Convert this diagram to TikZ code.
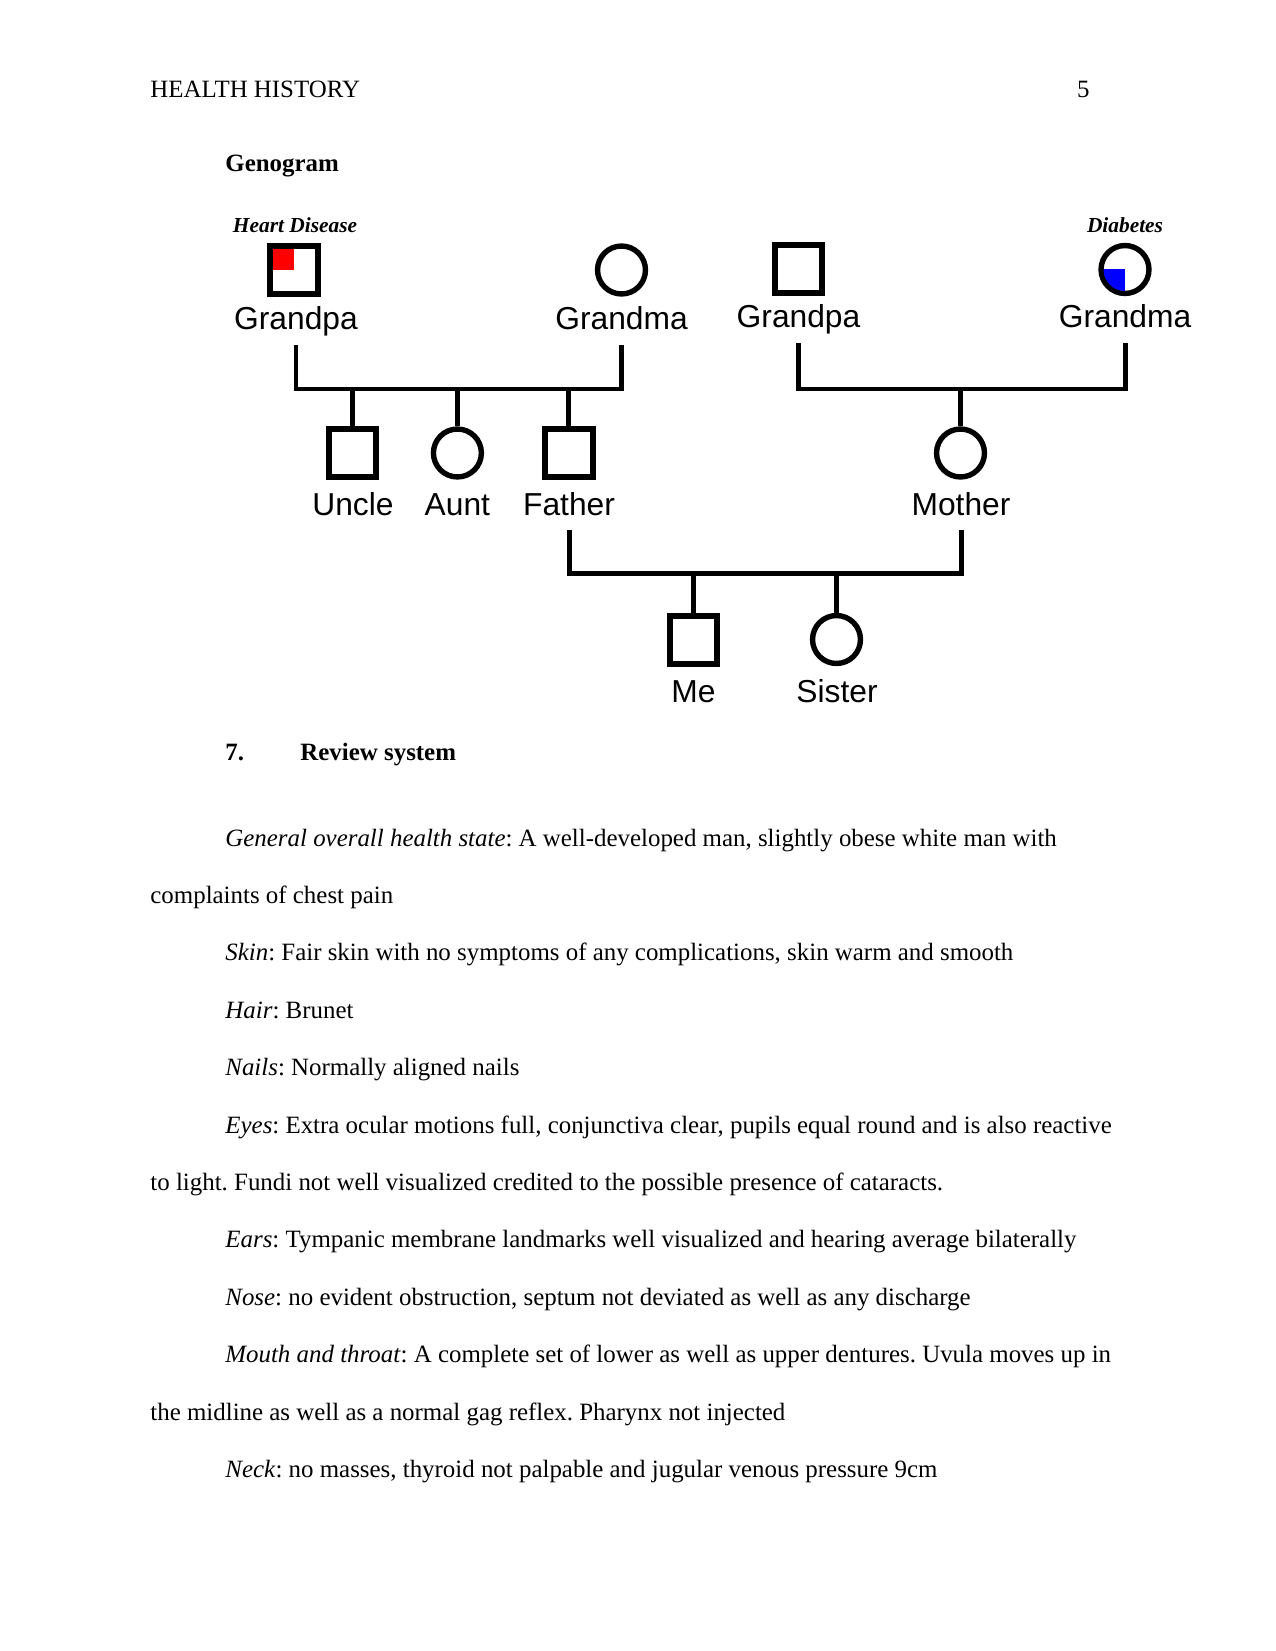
\documentclass[tikz,border=0pt]{standalone}
\usepackage{fontspec}
\setmainfont{Liberation Serif}
\newfontfamily\kinfont{Liberation Sans}
\definecolor{dxred}{rgb}{1,0,0}
\definecolor{dxblue}{rgb}{0,0,1}
\frenchspacing

\begin{document}
\begin{tikzpicture}[x = 0.4818pt, y = -0.4818pt,
                    malebox/.style={rectangle, draw = black,
                    line width = 2.9pt, minimum size = 23.1pt, inner sep = 0},
                    femcirc/.style={circle, draw = black,
                    line width = 2.6pt, minimum size = 23.1pt, inner sep = 0},
                    kinlbl/.style={anchor = base, inner sep = 0,
                    font = \kinfont\fontsize{15.3}{18}\selectfont,
                    text depth = 3.4pt, outer ysep = 3.8pt},
                    dxlbl/.style={anchor = base,
                    font = \fontsize{10.3}{12}\selectfont\bfseries\itshape},
                    famline/.style={line width = 2.4pt, draw = black},
                    bodytxt/.style={anchor = base west, inner sep = 0,
                    font = \fontsize{12}{14}\selectfont},
                    headtxt/.style={bodytxt, font = \fontsize{12}{14}\selectfont\bfseries}]

                    \useasboundingbox (0,0) rectangle (1275,1651);

                    \node[bodytxt] (hdr) at (150,98) {HEALTH HISTORY};
                    \node[bodytxt, anchor = base east] (pgno) at (1090,98) {5};
                    \node[headtxt] (genohd) at (225,172) {Genogram};

                    % grandparents
                    \node[dxlbl] (hd) at (295,233) {Heart Disease};
                    \node[malebox] (gpa1) at (294,270) {};
                    \fill[dxred] (gpa1.center) rectangle ++(-21,-21);
                    \node[kinlbl] (gpa1lbl) at (296,330) {Grandpa};
                    \node[femcirc] (gma1) at (621.5,270) {};
                    \node[kinlbl] (gma1lbl) at (621.5,330) {Grandma};

                    \node[malebox] (gpa2) at (798.5,269) {};
                    \node[kinlbl] (gpa2lbl) at (798.5,328) {Grandpa};
                    \node[dxlbl] (db) at (1125,233) {Diabetes};
                    \node[femcirc] (gma2) at (1125,269.5) {};
                    \begin{scope}
                    \clip (gma2.center) circle [radius = 21.5];
                    \fill[dxblue] (gma2.center) rectangle ++(-25,25);
                    \end{scope}
                    \node[kinlbl] (gma2lbl) at (1125,328) {Grandma};

                    % parents
                    \node[malebox] (uncle) at (352.5,453) {};
                    \node[kinlbl] (unclelbl) at (353,515) {Uncle};
                    \node[femcirc] (aunt) at (457.4,453) {};
                    \node[kinlbl] (auntlbl) at (457.4,515) {Aunt};
                    \node[malebox] (father) at (568.6,453) {};
                    \node[kinlbl] (fatherlbl) at (569,515) {Father};
                    \node[femcirc] (mother) at (960.5,453) {};
                    \node[kinlbl] (motherlbl) at (961,515) {Mother};

                    % children
                    \node[malebox] (me) at (693.5,640) {};
                    \node[kinlbl] (melbl) at (693.5,702) {Me};
                    \node[femcirc] (sister) at (836.5,639.5) {};
                    \node[kinlbl] (sisterlbl) at (837,702) {Sister};

                    \coordinate (pbar) at (459,389);
                    \coordinate (mbar) at (961,389);
                    \coordinate (cbar) at (765,573.5);

                    \draw[famline] (gpa1lbl.south) |- (pbar) -| (gma1lbl.south);
                    \draw[famline] (uncle.north) -- (uncle.north |- pbar);
                    \draw[famline] (aunt.north) -- (aunt.north |- pbar);
                    \draw[famline] (father.north) -- (father.north |- pbar);
                    \draw[famline] (gpa2lbl.south) |- (mbar) -| (gma2lbl.south);
                    \draw[famline] (mother.north) -- (mother.north |- mbar);
                    \draw[famline] (fatherlbl.south) |- (cbar) -| (motherlbl.south);
                    \draw[famline] (me.north) -- (me.north |- cbar);
                    \draw[famline] (sister.north) -- (sister.north |- cbar);

                    % review system
                    \node[headtxt] (secno) at (225,760) {7.};
                    \node[headtxt] (sechd) at (300,760) {Review system};

                    \node[bodytxt] (ln1) at (225,846) {\textit{General overall health state}: A well-developed man, slightly obese white man with};
                    \node[bodytxt] (ln2) at (150,903.4) {complaints of chest pain};
                    \node[bodytxt] (ln3) at (225,960.8) {\textit{Skin}: Fair skin with no symptoms of any complications, skin warm and smooth};
                    \node[bodytxt] (ln4) at (225,1018.2) {\textit{Hair}: Brunet};
                    \node[bodytxt] (ln5) at (225,1075.6) {\textit{Nails}: Normally aligned nails};
                    \node[bodytxt] (ln6) at (225,1133) {\textit{Eyes}: Extra ocular motions full, conjunctiva clear, pupils equal round and is also reactive};
                    \node[bodytxt] (ln7) at (150,1190.4) {to light. Fundi not well visualized credited to the possible presence of cataracts.};
                    \node[bodytxt] (ln8) at (225,1247.8) {\textit{Ears}: Tympanic membrane landmarks well visualized and hearing average bilaterally};
                    \node[bodytxt] (ln9) at (225,1305.2) {\textit{Nose}: no evident obstruction, septum not deviated as well as any discharge};
                    \node[bodytxt] (ln10) at (225,1362.6) {\textit{Mouth and throat}: A complete set of lower as well as upper dentures. Uvula moves up in};
                    \node[bodytxt] (ln11) at (150,1420) {the midline as well as a normal gag reflex. Pharynx not injected};
                    \node[bodytxt] (ln12) at (225,1477.4) {\textit{Neck}: no masses, thyroid not palpable and jugular venous pressure 9cm};
                    \end{tikzpicture}
\end{document}
